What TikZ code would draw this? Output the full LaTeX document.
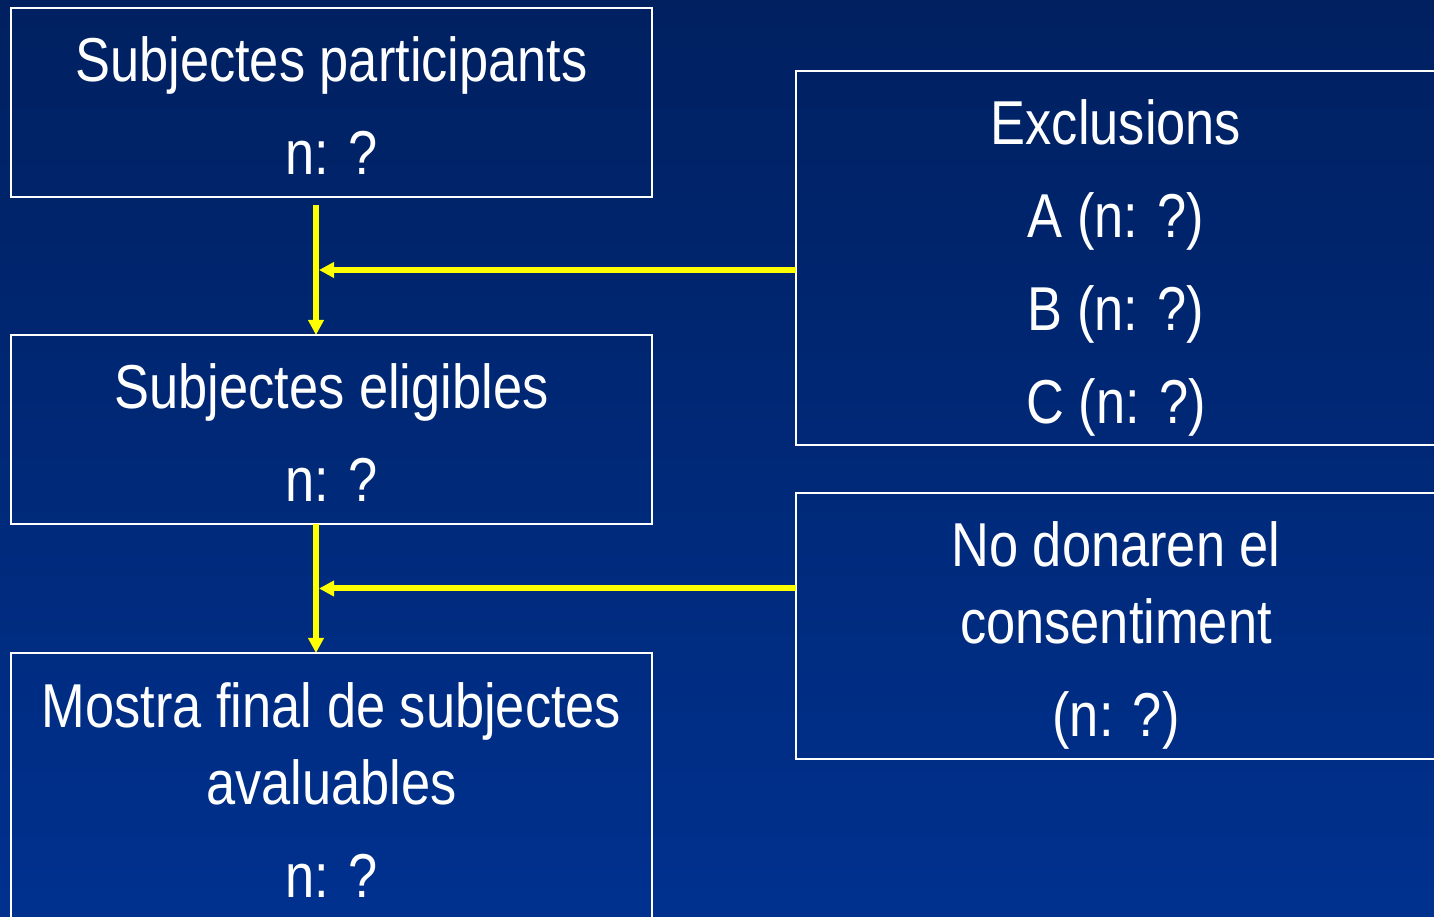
\documentclass[tikz,border=0pt]{standalone}
\usepackage{fontspec}
\setmainfont{Liberation Sans}[FakeStretch=0.845]
\usetikzlibrary{positioning,arrows.meta}
\definecolor{bgtop}{RGB}{0,32,96}
\definecolor{bgbot}{RGB}{0,49,143}
\definecolor{arrowyellow}{RGB}{255,255,0}
\newcommand{\boxfont}{\fontsize{31}{38.5}\selectfont}
\newcommand{\pushdown}[1]{\rule{0pt}{#1}}
\begin{document}
\begin{tikzpicture}[x=1pt, y=1pt, node distance={69pt},
  main/.style = {draw=white, line width=1pt, outer sep=0pt, text=white,
    align=center, font=\boxfont, minimum width=320.5pt, minimum height=94.5pt},
  side/.style = {main, minimum width=320pt},
  arr/.style = {draw=arrowyellow, line width=3pt,
    -{Triangle[length=7.5pt, width=7.5pt]}}]
\useasboundingbox (0,0) rectangle (717,458);
\shade[top color=bgtop, bottom color=bgbot] (0,0) rectangle (717,458);
\node[main] (1) at (165.75,406.75)
  {\pushdown{26pt}Subjectes participants\\[8pt]n: ?};
\node[main] (2) [below=of 1]
  {\pushdown{26pt}Subjectes eligibles\\[8pt]n: ?};
\node[main, minimum height=133pt] (3) [below=64.5pt of 2]
  {\pushdown{26pt}Mostra final de subjectes\\avaluables\\[8pt]n: ?};
\node[side, minimum height=187pt] (4) at (558,329)
  {\pushdown{32pt}Exclusions\\[8pt]A (n: ?)\\[8pt]B (n: ?)\\[8pt]C (n: ?)};
\node[side, minimum height=133pt] (5) at (558,145)
  {\pushdown{32pt}No donaren el\\consentiment\\[8pt](n: ?)};
\draw[arr] ([xshift=-7.75pt, yshift=-4pt]1.south) --
  node[coordinate, pos=0.5] (m1) {} ([xshift=-7.75pt]2.north);
\draw[arr] ([xshift=-7.75pt]2.south) --
  node[coordinate, pos=0.5] (m2) {} ([xshift=-7.75pt]3.north);
\draw[arr] (4.west |- m1) -- ([xshift=1.5pt]m1);
\draw[arr] (5.west |- m2) -- ([xshift=1.5pt]m2);
\end{tikzpicture}
\end{document}
